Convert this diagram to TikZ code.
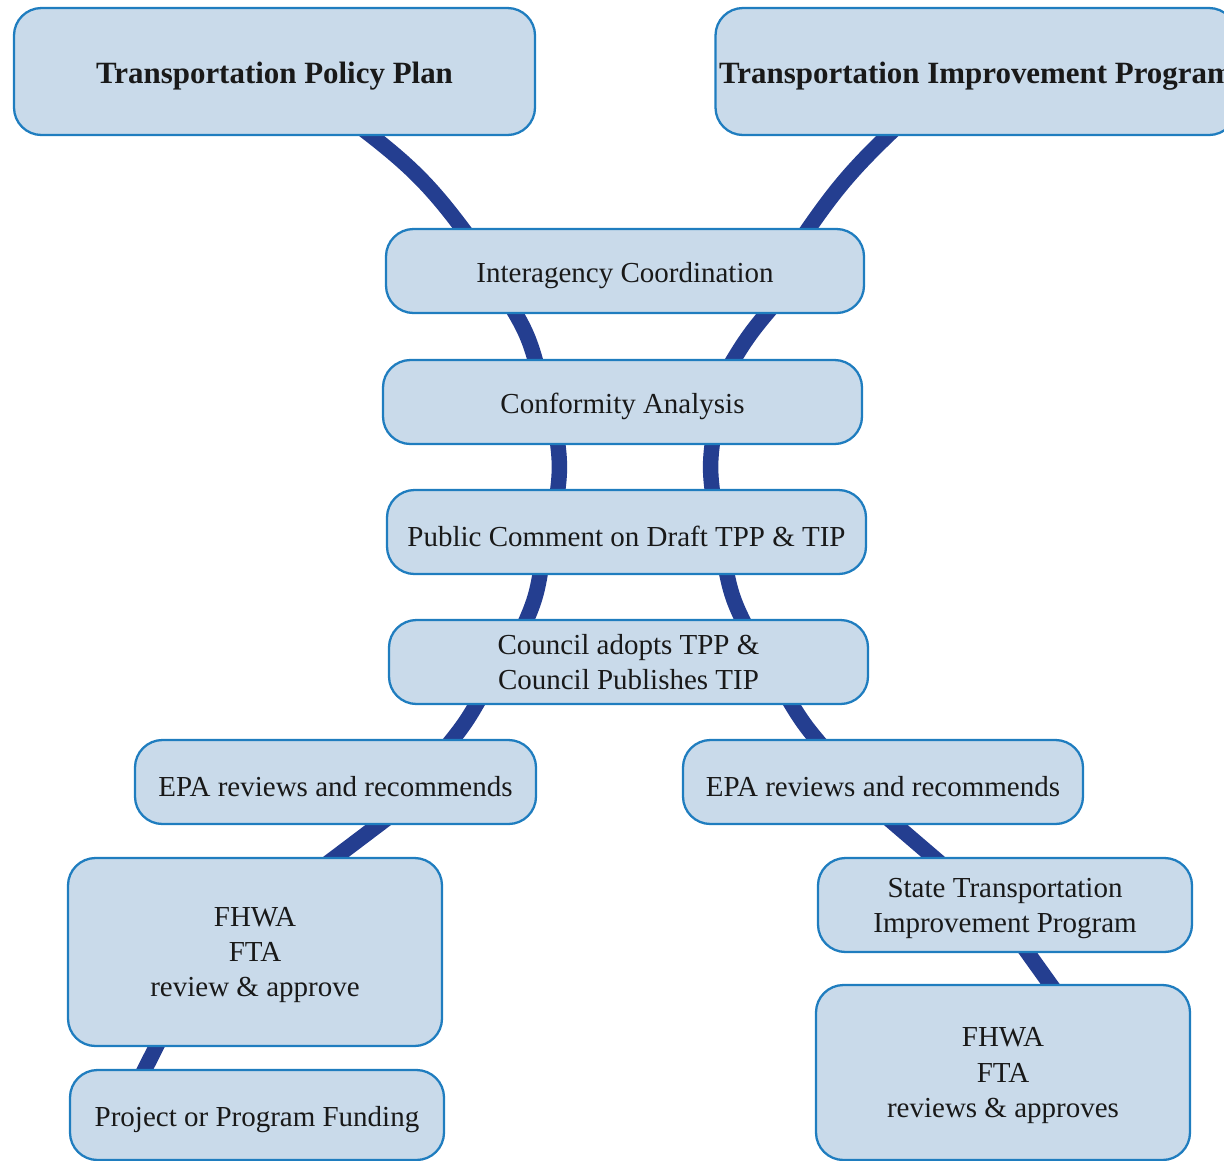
\documentclass[tikz,border=0pt]{standalone}
\usepackage{fontspec}
\setmainfont{Liberation Serif}
\usetikzlibrary{backgrounds}
\definecolor{boxfill}{HTML}{C9DAEA}
\definecolor{boxline}{HTML}{1F7DBF}
\definecolor{linkblue}{HTML}{243E90}
\begin{document}
\begin{tikzpicture}[box node/.style={rectangle,rounded corners=0.55cm,fill=boxfill,draw=boxline,
                      line width=1.3pt,align=center,inner sep=0pt,text=black!90,
                      font=\fontsize{16.5}{20}\selectfont,
                      execute at begin node={\rule{0pt}{17pt}}},
                    title node/.style={box node,font=\fontsize{17.6}{20}\selectfont\bfseries},
                    multi node/.style={box node,text depth=-1.6pt},
                    link/.style={every edge/.style={draw=linkblue,line width=8.8pt,
                      shorten <=-6pt,shorten >=-6pt}}
                   ]
   \useasboundingbox (0,0) rectangle (24.48,-23.2);
   \node[title node,minimum width=10.42cm,minimum height=2.54cm] (tpp) at (5.49,-1.43) {Transportation Policy Plan};
   \node[title node,minimum width=10.42cm,minimum height=2.54cm] (tip) at (19.52,-1.43) {Transportation Improvement Program};
   \node[box node,minimum width=9.56cm,minimum height=1.68cm] (inter) at (12.5,-5.42) {Interagency Coordination};
   \node[box node,minimum width=9.58cm,minimum height=1.68cm] (conf) at (12.45,-8.04) {Conformity Analysis};
   \node[box node,minimum width=9.58cm,minimum height=1.68cm] (public) at (12.53,-10.64) {Public Comment on Draft TPP \& TIP};
   \node[multi node,minimum width=9.58cm,minimum height=1.68cm] (council) at (12.57,-13.24) {Council adopts TPP \&\\Council Publishes TIP};
   \node[box node,minimum width=8.02cm,minimum height=1.68cm] (epal) at (6.71,-15.64) {EPA reviews and recommends};
   \node[box node,minimum width=8.0cm,minimum height=1.68cm] (epar) at (17.66,-15.64) {EPA reviews and recommends};
   \node[multi node,minimum width=7.48cm,minimum height=3.76cm] (fhwal) at (5.10,-19.04) {FHWA\\FTA\\review \& approve};
   \node[multi node,minimum width=7.48cm,minimum height=1.88cm] (stip) at (20.10,-18.10) {State Transportation\\Improvement Program};
   \node[box node,minimum width=7.48cm,minimum height=1.80cm] (fund) at (5.14,-22.30) {Project or Program Funding};
   \node[multi node,minimum width=7.48cm,minimum height=3.50cm] (fhwar) at (20.06,-21.45) {FHWA\\FTA\\reviews \& approves};
   \begin{pgfonlayer}{background}
   \path[link]%
     ([xshift=1.95cm]tpp.south) edge[bend left=8] ([xshift=-3.26cm]inter.north)     % left strand
     ([xshift=-2.18cm]inter.south) edge[bend left=8] ([xshift=-1.75cm]conf.north)
     ([xshift=-1.29cm]conf.south) edge[bend left=8] ([xshift=-1.37cm]public.north)
     ([xshift=-1.73cm]public.south) edge[bend left=8] ([xshift=-2.03cm]council.north)
     ([xshift=-3.05cm]council.south) edge[bend left=5] ([xshift=2.35cm]epal.north)
     ([xshift=-1.78cm]tip.south) edge[bend right=6] ([xshift=3.68cm]inter.north)    % right strand
     ([xshift=2.82cm]inter.south) edge[bend right=5] ([xshift=2.23cm]conf.north)
     ([xshift=1.79cm]conf.south) edge[bend right=8] ([xshift=1.71cm]public.north)
     ([xshift=2.01cm]public.south) edge[bend right=8] ([xshift=2.27cm]council.north)
     ([xshift=3.27cm]council.south) edge[bend right=5] ([xshift=-1.34cm]epar.north)
     ([xshift=0.85cm]epal.south) edge ([xshift=1.62cm]fhwal.north)
     ([xshift=-1.98cm]fhwal.south) edge ([xshift=-2.24cm]fund.north)
     ([xshift=0.26cm]epar.south) edge ([xshift=-1.44cm]stip.north)
     ([xshift=0.46cm]stip.south) edge ([xshift=0.94cm]fhwar.north);
   \end{pgfonlayer}
\end{tikzpicture}
\end{document}
